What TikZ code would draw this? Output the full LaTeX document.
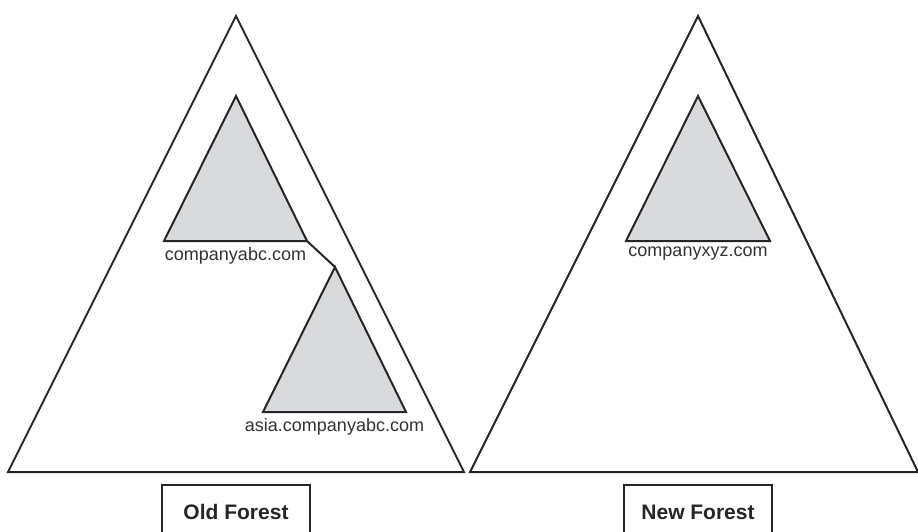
\documentclass[tikz,border=0pt]{standalone}
\usepackage{fontspec}
\setmainfont{Liberation Sans}
\usetikzlibrary{positioning, calc}
\definecolor{domgrey}{RGB}{216, 218, 221}
\begin{document}
\begin{tikzpicture}[x=1pt, y=-1pt, line join=miter,
      forest/.style ={draw=black!85, line width=2pt, fill=white},
      subtree/.style={draw=black!85, line width=2pt, fill=domgrey},
      dname/.style  ={anchor=north, inner sep=0pt, yshift=-6pt, font=\fontsize{18}{19}\selectfont, text=black!80},
      fbox/.style   ={draw=black!85, line width=2pt, fill=white, minimum width=148pt, minimum height=54pt,
                      font=\fontsize{21}{22}\selectfont\bfseries, text=black!85}]
    \useasboundingbox (0,0) rectangle (918,531);
    \clip (0,0) rectangle (918,531);
    % --- LEFT: the old forest, holding two trees ---
    \coordinate (oldtop) at (236,16);
    \coordinate (oldl) at (8,472);
    \coordinate (oldr) at (464,472);
    \draw[forest] (oldtop) -- (oldl) -- (oldr) -- cycle;
    \coordinate (abctop) at (236,96);
    \coordinate (abcl) at (164,241);
    \coordinate (abcr) at (307,241);
    \draw[subtree] (abctop) -- (abcl) -- (abcr) -- cycle;
    \node[dname] (abc) at ($(abcl)!0.5!(abcr)$) {companyabc.com};
    \coordinate (asiatop) at (335,267);
    \coordinate (asial) at (263,412);
    \coordinate (asiar) at (406,412);
    \draw[subtree] (asiatop) -- (asial) -- (asiar) -- cycle;
    \node[dname] (asia) at ($(asial)!0.5!(asiar)$) {asia.companyabc.com};
    \draw[line width=2pt, draw=black!85] (abcr) -- (asiatop);
    % --- RIGHT: the new forest, holding one tree ---
    \coordinate (newtop) at (698,16);
    \coordinate (newl) at (470,472);
    \coordinate (newr) at (918,472);
    \draw[forest] (newtop) -- (newl) -- (newr) -- cycle;
    \coordinate (xyztop) at (698,96);
    \coordinate (xyzl) at (626,241);
    \coordinate (xyzr) at (770,241);
    \draw[subtree] (xyztop) -- (xyzl) -- (xyzr) -- cycle;
    \node[dname] (xyz) at ($(xyzl)!0.5!(xyzr)$) {companyxyz.com};
    % --- BOTTOM: captions ---
    \node[fbox] (oldf) at (236,512) {Old Forest};
    \node[fbox] (newf) at (698,512) {New Forest};
\end{tikzpicture}
\end{document}
